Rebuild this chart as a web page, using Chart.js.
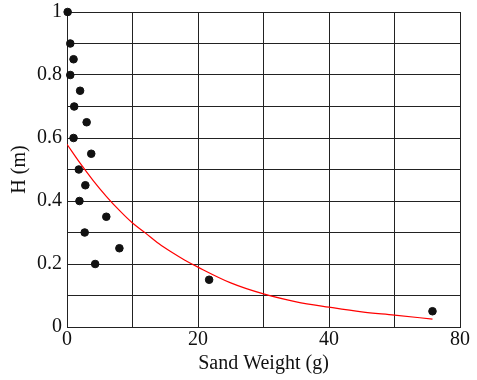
<!DOCTYPE html>
<html>
<head>
<meta charset="UTF-8">
<title>Sand Weight vs H</title>
<script src="https://cdn.jsdelivr.net/npm/chart.js"></script>
<style>
  body { margin: 0; background: #fff; }
</style>
</head>
<body>
<canvas id="chart" width="477" height="380"></canvas>

<script>
   // measured points (x in plot units, one grid square = 10)
   const pointX = [0.1, 0.5, 1.0, 0.5, 2.0, 1.1, 3.0, 1.0, 3.7, 1.8, 2.8, 1.9, 6.0, 2.7, 8.0, 4.3, 21.7, 55.8]
   const pointY = [1.0, 0.9, 0.85, 0.8, 0.75, 0.7, 0.65, 0.6, 0.55, 0.5, 0.45, 0.4, 0.35, 0.3, 0.25, 0.2, 0.15, 0.05]

   // red fitted curve
   const curveX = [0, 2, 4, 6, 8, 10, 12, 14, 16, 18, 20, 25, 30, 35, 40, 45, 50, 55.8]
   const curveY = [0.58, 0.52, 0.465, 0.415, 0.37, 0.33, 0.298, 0.265, 0.237, 0.212, 0.19, 0.14, 0.105, 0.08, 0.063, 0.048, 0.038, 0.025]

   const xTickLabels = ['0', '', '20', '', '40', '', '80']
   const yTickLabels = ['0', '', '0.2', '', '0.4', '', '0.6', '', '0.8', '', '1']

   const serif = 'Liberation Serif'
   const gridColor = '#222'

   const ctx = document.querySelector('#chart').getContext('2d')
   const chart = new Chart(ctx, {
      type: 'scatter',
      data: {
         datasets: [
            {
               label: 'fit',
               type: 'line',
               data: curveX.map((x, i) => ({x: x, y: curveY[i]})),
               borderColor: '#ff0000',
               borderWidth: 1.2,
               pointRadius: 0,
               fill: false,
               cubicInterpolationMode: 'monotone'
            },
            {
               label: 'H',
               data: pointX.map((x, i) => ({x: x, y: pointY[i]})),
               backgroundColor: '#111',
               borderColor: '#111',
               pointRadius: 3.8,
               clip: false
            }
         ]
      },
      options: {
         responsive: false,
         animation: false,
         layout: { padding: { top: 12, right: 17, left: 0, bottom: 0 } },
         plugins: { legend: { display: false }, tooltip: { enabled: false } },
         scales: {
            x: {
               type: 'linear',
               min: 0,
               max: 60,
               afterFit: function(s) { s.height = 53; s.paddingLeft = 0; s.paddingRight = 0 },
               grid: { color: gridColor, lineWidth: 1, drawTicks: false },
               border: { color: gridColor, width: 1 },
               ticks: {
                  stepSize: 10,
                  padding: 1,
                  maxRotation: 0,
                  autoSkip: false,
                  color: '#111',
                  font: { family: serif, size: 20 },
                  callback: function(v, i) { return xTickLabels[i] }
               },
               title: {
                  display: true,
                  text: 'Sand Weight (g)',
                  color: '#111',
                  font: { family: serif, size: 20 },
                  padding: { top: 0, bottom: 4 }
               }
            },
            y: {
               type: 'linear',
               min: 0,
               max: 1,
               afterFit: function(s) { s.width = 67; s.paddingTop = 0; s.paddingBottom = 0 },
               grid: { color: gridColor, lineWidth: 1, drawTicks: false },
               border: { color: gridColor, width: 1 },
               ticks: {
                  stepSize: 0.1,
                  padding: 5,
                  autoSkip: false,
                  color: '#111',
                  font: { family: serif, size: 20 },
                  callback: function(v, i) { return yTickLabels[i] }
               },
               title: {
                  display: true,
                  text: 'H (m)',
                  color: '#111',
                  font: { family: serif, size: 20 },
                  padding: { top: 8, bottom: 0 }
               }
            }
         }
      }
   })
</script>
</body>
</html>
